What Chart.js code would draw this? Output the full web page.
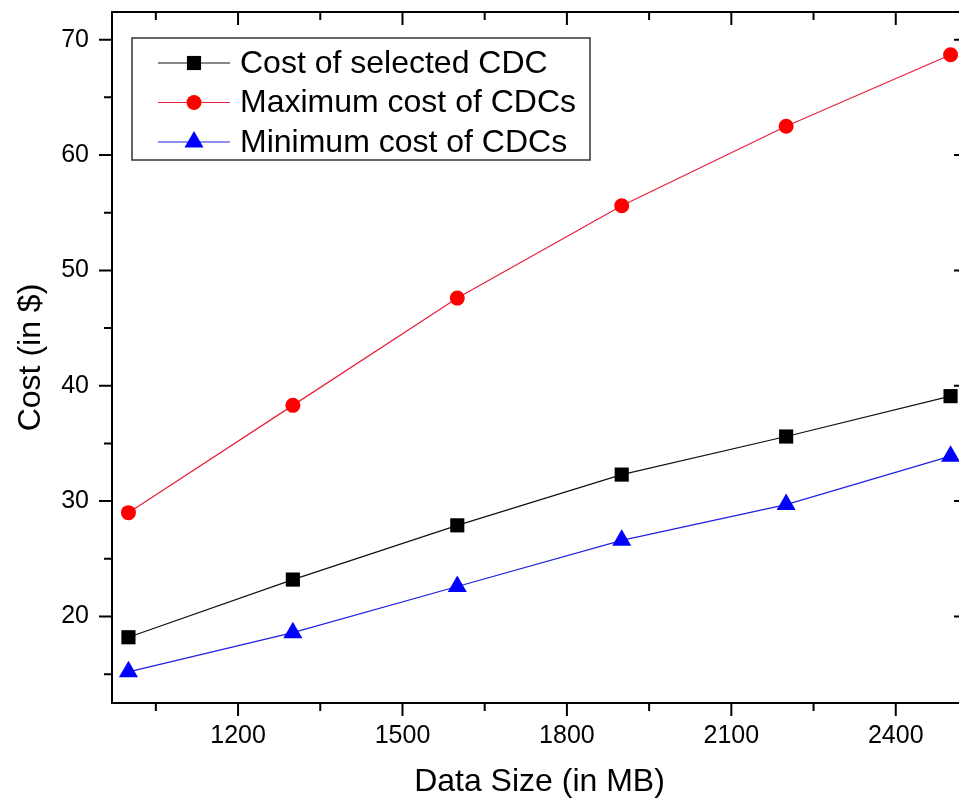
<!DOCTYPE html>
<html>
<head>
<meta charset="utf-8">
<script src="https://cdn.jsdelivr.net/npm/chart.js@4.4.1/dist/chart.umd.min.js"></script>
<style>
    html, body { margin: 0; padding: 0; background: #fff; overflow: hidden; }
    #wrap { width: 980px; height: 805px; }
</style>
</head>
<body>
<div id="wrap"><canvas id="costChart" width="980" height="805"></canvas></div>
<script>
// data
const dataSizes = [1000, 1300, 1600, 1900, 2200, 2500];
const selectedCost = [18.2, 23.2, 27.9, 32.3, 35.6, 39.1];
const maxCost = [29.0, 38.3, 47.6, 55.6, 62.5, 68.7];
const minCost = [15.2, 18.6, 22.6, 26.6, 29.7, 33.9];
const xTickValues = [1200, 1500, 1800, 2100, 2400];
const yTickValues = [20, 30, 40, 50, 60, 70];

const fontFamily = '"Liberation Sans", Arial, sans-serif';

function toPoints(values) {
    return dataSizes.map((x, i) => ({ x: x, y: values[i] }));
}

function noPadding(s) {
    s.paddingTop = 0;
    s.paddingBottom = 0;
    s.paddingLeft = 0;
    s.paddingRight = 0;
}

// box frame with major/minor ticks (outside on left/bottom, inside on top/right)
const framePlugin = {
    id: 'frame',
    beforeDatasetsDraw(chart) {
        const ctx = chart.ctx;
        const a = chart.chartArea;
        const x = chart.scales.x;
        const y = chart.scales.y;
        ctx.save();
        ctx.strokeStyle = '#000';
        ctx.lineWidth = 2;
        ctx.strokeRect(a.left, a.top, a.right - a.left, a.bottom - a.top);
        ctx.beginPath();
        for (let v = 1050; v < x.max; v += 150) {
            const px = x.getPixelForValue(v);
            const len = v % 300 === 0 ? 13 : 8;
            ctx.moveTo(px, a.bottom); ctx.lineTo(px, a.bottom + len);
            ctx.moveTo(px, a.top); ctx.lineTo(px, a.top + len);
        }
        for (let v = 15; v < y.max; v += 5) {
            const py = y.getPixelForValue(v);
            const len = v % 10 === 0 ? 13 : 8;
            ctx.moveTo(a.left, py); ctx.lineTo(a.left - len, py);
            ctx.moveTo(a.right, py); ctx.lineTo(a.right - len, py);
        }
        ctx.stroke();
        ctx.restore();
    }
};

// legend box in the upper left of the plot
const legendPlugin = {
    id: 'boxLegend',
    afterDraw(chart) {
        const ctx = chart.ctx;
        const a = chart.chartArea;
        const boxX = a.left + 20, boxY = a.top + 26, boxW = 458, boxH = 122;
        ctx.save();
        ctx.fillStyle = '#fff';
        ctx.fillRect(boxX, boxY, boxW, boxH);
        ctx.strokeStyle = '#333';
        ctx.lineWidth = 1.5;
        ctx.strokeRect(boxX, boxY, boxW, boxH);
        chart.data.datasets.forEach((ds, i) => {
            const cy = boxY + 25 + i * 39.5;
            ctx.strokeStyle = ds.borderColor;
            ctx.lineWidth = 1;
            ctx.beginPath();
            ctx.moveTo(boxX + 26, cy);
            ctx.lineTo(boxX + 98, cy);
            ctx.stroke();
            ctx.fillStyle = ds.pointBackgroundColor;
            ctx.strokeStyle = ds.pointBackgroundColor;
            Chart.helpers.drawPoint(ctx, {
                pointStyle: ds.pointStyle,
                radius: ds.pointRadius,
                borderWidth: ds.pointBorderWidth,
                rotation: 0
            }, boxX + 62, cy);
            ctx.fillStyle = '#000';
            ctx.font = '32px ' + fontFamily;
            ctx.textBaseline = 'middle';
            ctx.textAlign = 'left';
            ctx.fillText(ds.label, boxX + 108, cy + 1);
        });
        ctx.restore();
    }
};

const costCtx = document.getElementById('costChart').getContext('2d');
new Chart(costCtx, {
    type: 'line',
    data: {
        datasets: [
            {
                label: 'Cost of selected CDC',
                data: toPoints(selectedCost),
                borderColor: '#111',
                borderWidth: 1.2,
                pointStyle: 'rect',
                pointRadius: 10,
                pointBorderWidth: 0,
                pointBackgroundColor: '#000'
            },
            {
                label: 'Maximum cost of CDCs',
                data: toPoints(maxCost),
                borderColor: '#e8203c',
                borderWidth: 1.2,
                pointStyle: 'circle',
                pointRadius: 7.5,
                pointBorderWidth: 0,
                pointBackgroundColor: '#ff0000'
            },
            {
                label: 'Minimum cost of CDCs',
                data: toPoints(minCost),
                borderColor: '#2020e0',
                borderWidth: 1.2,
                pointStyle: 'triangle',
                pointRadius: 11,
                pointBorderWidth: 0,
                pointBackgroundColor: '#0000ff'
            }
        ]
    },
    options: {
        responsive: false,
        animation: false,
        layout: {
            padding: { top: 12, right: 13, left: 0, bottom: 0 }
        },
        plugins: {
            legend: { display: false },
            tooltip: { enabled: false }
        },
        scales: {
            x: {
                type: 'linear',
                min: 970,
                max: 2530,
                afterBuildTicks: (s) => { s.ticks = xTickValues.map(v => ({ value: v })); },
                afterFit: (s) => { s.height = 102; noPadding(s); },
                grid: { display: false, drawTicks: false },
                border: { display: false },
                ticks: {
                    color: '#000',
                    padding: 18,
                    maxRotation: 0,
                    autoSkip: false,
                    font: { size: 25, family: fontFamily },
                    callback: (v) => String(v)
                },
                title: {
                    display: true,
                    text: 'Data Size (in MB)',
                    color: '#000',
                    font: { size: 32, family: fontFamily },
                    padding: { top: 0, bottom: 4 }
                }
            },
            y: {
                min: 12.5,
                max: 72.4,
                afterBuildTicks: (s) => { s.ticks = yTickValues.map(v => ({ value: v })); },
                afterFit: (s) => { s.width = 112; noPadding(s); },
                grid: { display: false, drawTicks: false },
                border: { display: false },
                ticks: {
                    color: '#000',
                    padding: 23,
                    autoSkip: false,
                    font: { size: 25, family: fontFamily },
                    callback: (v) => String(v)
                },
                title: {
                    display: true,
                    text: 'Cost (in $)',
                    color: '#000',
                    font: { size: 32, family: fontFamily },
                    padding: { top: 12, bottom: 0 }
                }
            }
        }
    },
    plugins: [framePlugin, legendPlugin]
});
</script>
</body>
</html>
